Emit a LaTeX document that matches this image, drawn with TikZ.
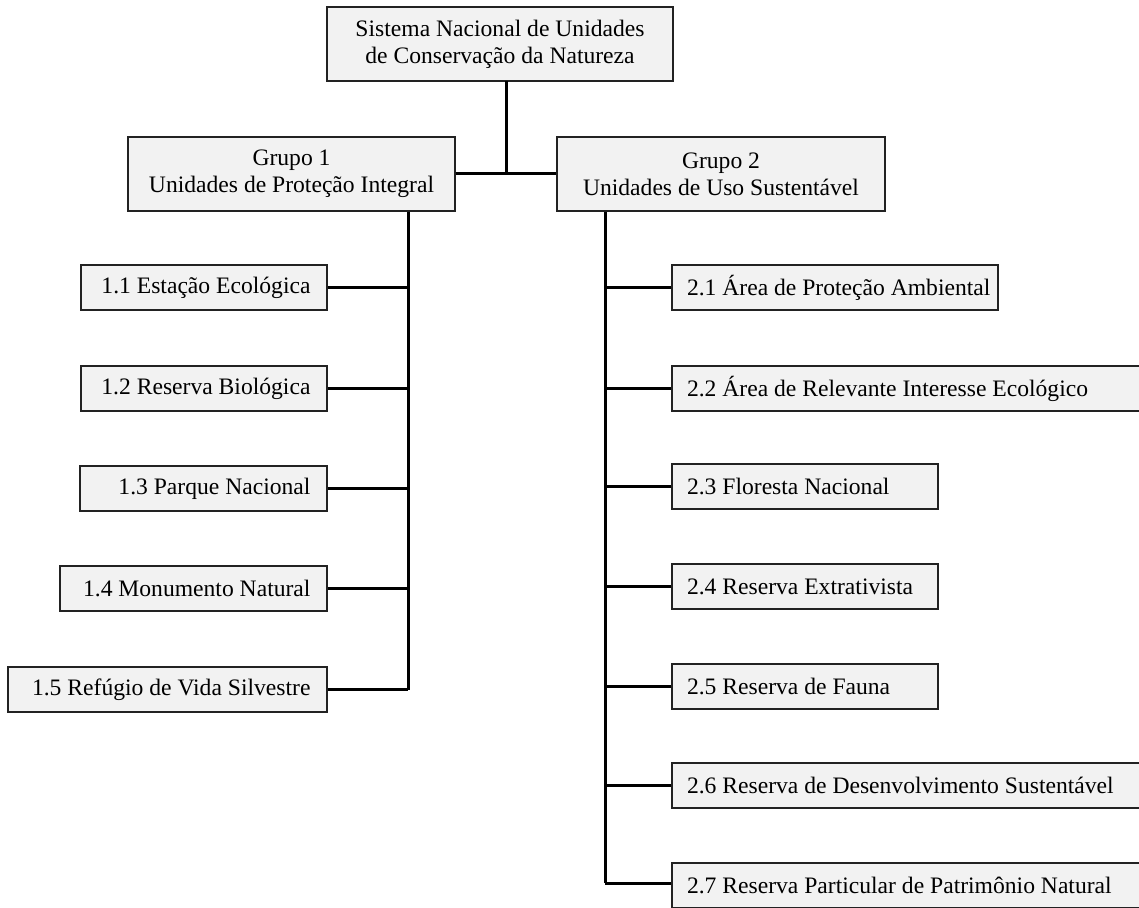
\documentclass[tikz,border=0pt]{standalone}
\usepackage{fontspec}
\setmainfont{Liberation Serif}
\definecolor{boxfill}{HTML}{F2F2F2}
\definecolor{boxline}{HTML}{222222}
\newcommand\lbtext[2]{\makebox[\dimexpr#1-33pt\relax][r]{#2}}
\newcommand\rbtext[2]{\makebox[\dimexpr#1-30pt\relax][l]{#2}}
\begin{document}
\begin{tikzpicture}[x=1pt,y=-1pt,
  every node/.style={font=\fontsize{23.6}{27}\selectfont, text=black},
  box/.style={draw=boxline, line width=1.3pt, fill=boxfill, rectangle, inner ysep=0pt, minimum height=45pt, anchor=center},
  bigbox/.style={box, minimum height=74pt, align=center, inner xsep=0pt},
  lbox/.style={box, inner xsep=16.5pt, minimum width=#1},
  rbox/.style={box, inner xsep=15pt, minimum width=#1},
  conn/.style={line width=3pt, draw=black}
]
\path[use as bounding box] (0,0) rectangle (1139,907);
\clip (0,0) rectangle (1139,907);
\fill[white] (0,0) rectangle (1139,907);

% top and group boxes
\node[bigbox, minimum width=346pt] (top) at (500,44) {Sistema Nacional de Unidades\\de Conservação da Natureza};
\node[bigbox, minimum width=327pt] (g1) at (291.5,174) {Grupo 1\\Unidades de Proteção Integral};
\node[bigbox, minimum width=328pt] (g2) at (721,174) {Grupo 2\\Unidades de Uso Sustentável};

% left boxes (right edge at 327)
\node[lbox=246pt] (b11) at (204,287.5) {\lbtext{246pt}{1.1 Estação Ecológica}};
\node[lbox=246pt] (b12) at (204,388.5) {\lbtext{246pt}{1.2 Reserva Biológica}};
\node[lbox=247pt] (b13) at (203.5,488.5) {\lbtext{247pt}{1.3 Parque Nacional}};
\node[lbox=267pt] (b14) at (193.5,588.5) {\lbtext{267pt}{1.4 Monumento Natural}};
\node[lbox=319pt] (b15) at (167.5,689.5) {\lbtext{319pt}{1.5 Refúgio de Vida Silvestre}};

% right boxes (left edge at 672)
\node[rbox=326pt] (b21) at (835,287.5) {\rbtext{326pt}{2.1 Área de Proteção Ambiental}};
\node[rbox=500pt] (b22) at (922,388.5) {\rbtext{500pt}{2.2 Área de Relevante Interesse Ecológico}};
\node[rbox=266pt] (b23) at (805,486.5) {\rbtext{266pt}{2.3 Floresta Nacional}};
\node[rbox=266pt] (b24) at (805,586.5) {\rbtext{266pt}{2.4 Reserva Extrativista}};
\node[rbox=266pt] (b25) at (805,686.5) {\rbtext{266pt}{2.5 Reserva de Fauna}};
\node[rbox=500pt] (b26) at (922,785.5) {\rbtext{500pt}{2.6 Reserva de Desenvolvimento Sustentável}};
\node[rbox=500pt] (b27) at (922,885.5) {\rbtext{500pt}{2.7 Reserva Particular de Patrimônio Natural}};

% connector helper coordinates
\coordinate (topdrop) at (506,81);
\coordinate (junction) at (506,173);
\coordinate (sp1) at (408,211);
\coordinate (sp2) at (605,211);
\coordinate (end2) at (605,883);

% top to groups
\draw[conn] (topdrop) -- (junction);
\draw[conn] (g1.east |- junction) -- (g2.west |- junction);

% group 1 spine
\draw[conn] (sp1 |- g1.south) -- (sp1 |- b15.east);
\foreach \b in {b11,b12,b13,b14,b15}
  \draw[conn] (\b.east) -- (\b.east -| sp1);

% group 2 spine
\draw[conn] (sp2 |- g2.south) -- (end2);
\foreach \b in {b21,b22,b23,b24,b25,b26}
  \draw[conn] (\b.west) -- (\b.west -| sp2);
\draw[conn] (end2) -- (b27.west |- end2);
\end{tikzpicture}
\end{document}
